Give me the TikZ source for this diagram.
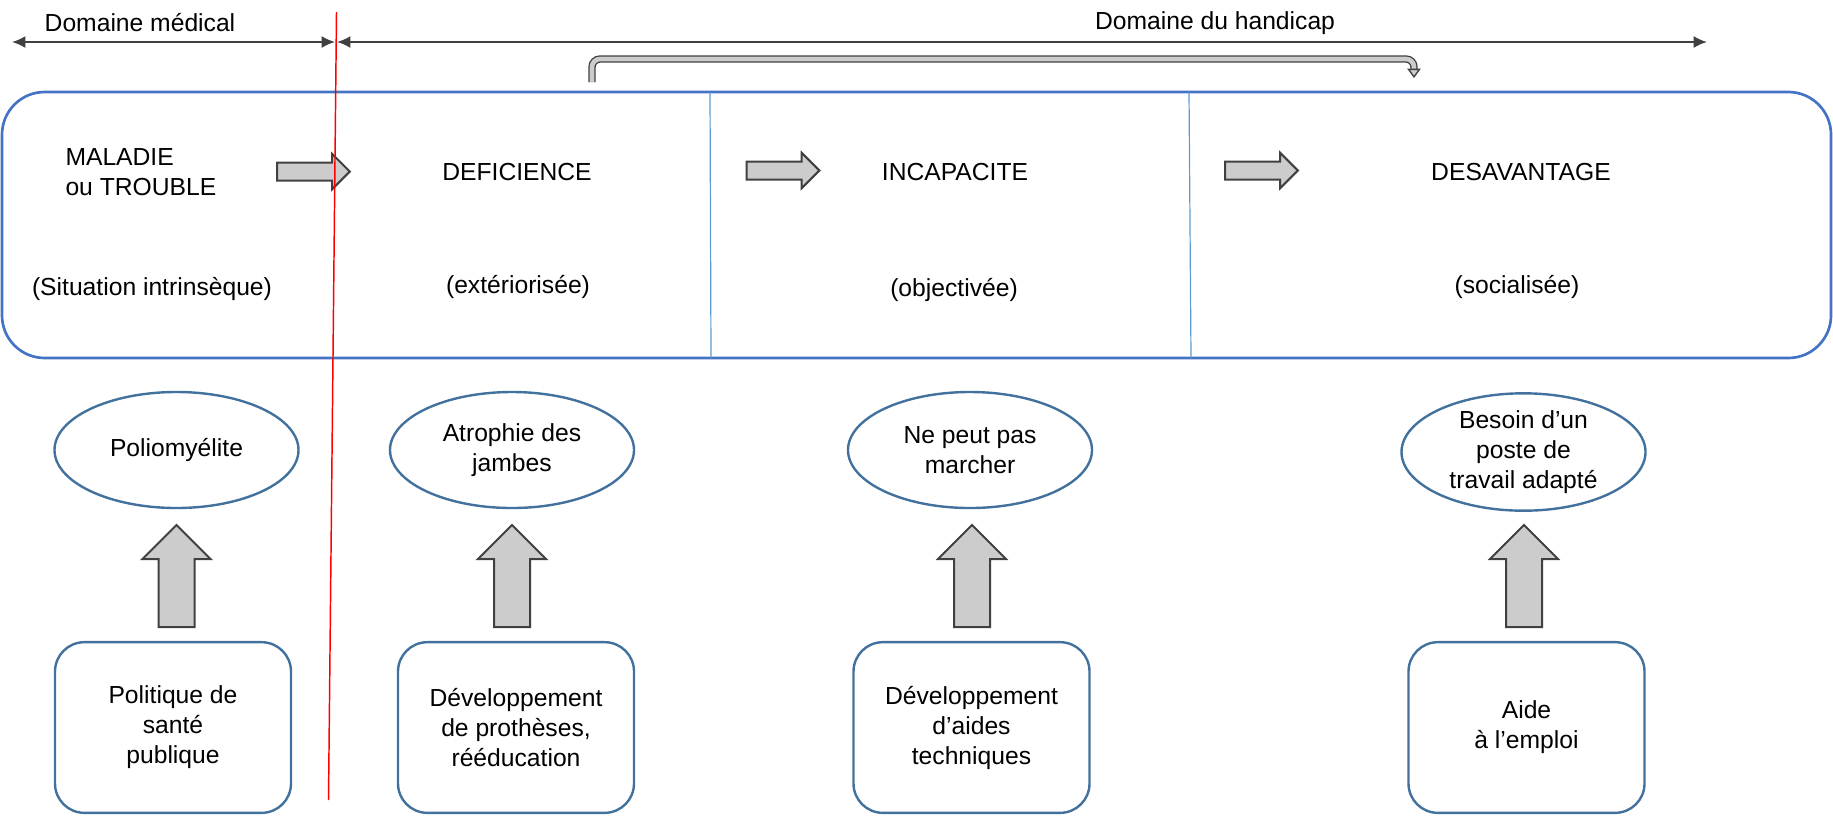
\documentclass[tikz,border=0pt]{standalone}
\usepackage{fontspec}
\setmainfont{Liberation Sans}
\usetikzlibrary{shapes.geometric,shapes.arrows,arrows.meta}

\definecolor{cadreblue}{RGB}{68,114,196}
\definecolor{traitblue}{RGB}{91,155,213}
\definecolor{bordblue}{RGB}{65,113,156}
\definecolor{flechegray}{RGB}{204,204,204}
\definecolor{contourgray}{RGB}{64,64,64}

\tikzset{every picture/.style={line width=0.75pt}}
\tikzset{
	texte/.style={font=\fontsize{18.5}{22.5}\selectfont, align=center, inner sep=0pt},
	bulle/.style={ellipse, draw=bordblue, line width=1.8pt, minimum width=183pt, minimum height=87pt, texte},
	cadre/.style={rectangle, rounded corners=22pt, draw=bordblue, line width=1.8pt, minimum width=177pt, minimum height=128pt, texte},
	flechedroite/.style={single arrow, draw=contourgray, fill=flechegray, line width=1.5pt, minimum height=54.5pt, minimum width=25pt, single arrow head extend=6.5pt, inner xsep=0pt, inner ysep=6pt},
	flechehaut/.style={single arrow, draw=contourgray, fill=flechegray, line width=1.5pt, minimum height=76.5pt, minimum width=49.5pt, single arrow head extend=12pt, inner xsep=0pt, inner ysep=12.75pt, rotate=90},
	domaine/.style={{Latex[length=10pt,width=9pt]}-{Latex[length=10pt,width=9pt]}, draw=contourgray, line width=1.5pt},
	renvoi/.style={draw=contourgray, double=flechegray, double distance=3.5pt, line width=1pt, rounded corners=6pt, -{Triangle[length=7pt,width=10pt,fill=flechegray]}}
}

\begin{document}
\begin{tikzpicture}[x=0.75pt,y=0.75pt,yscale=-1,xscale=1]
	\useasboundingbox (0,0) rectangle (1833,815);

	% Domaines
	\coordinate (medg) at (12,42);
	\coordinate (medd) at (335,42);
	\coordinate (handg) at (337,42);
	\coordinate (handd) at (1707,42);
	\draw[domaine] (medg) -- (medd);
	\draw[domaine] (handg) -- (handd);
	% Text Node
	\node[texte] (medical) at (140,23) {Domaine médical};
	% Text Node
	\node[texte] (handicap) at (1215,23) {Domaine du handicap};

	%Connector: renvoi
	\coordinate (renvoidepart) at (592,82);
	\coordinate (renvoifin) at (1414,78);
	\draw[renvoi] (renvoidepart) |- (1000,59) -| (renvoifin);

	%Shape: Rounded Rect
	\draw[cadreblue, line width=2pt, rounded corners=32pt] (2,92) rectangle (1831,358);
	%Straight Lines
	\coordinate (sep1h) at (710,92);
	\coordinate (sep1b) at (711,358);
	\coordinate (sep2h) at (1189,92);
	\coordinate (sep2b) at (1191,358);
	\draw[traitblue, line width=0.9pt] (sep1h) -- (sep1b);
	\draw[traitblue, line width=0.9pt] (sep2h) -- (sep2b);

	% Text Node
	\node[texte, align=left, anchor=west] (maladie) at (65,172) {MALADIE\\ou TROUBLE};
	\node[texte] (deficience) at (517,172) {DEFICIENCE};
	\node[texte] (incapacite) at (955,172) {INCAPACITE};
	\node[texte] (desavantage) at (1521,172) {DESAVANTAGE};
	% Text Node
	\node[texte] (intrinseque) at (152,289) {(Situation intrinsèque)};
	\node[texte] (exteriorisee) at (518,287) {(extériorisée)};
	\node[texte] (objectivee) at (954,290) {(objectivée)};
	\node[texte] (socialisee) at (1517,287) {(socialisée)};

	%Shape: Right Arrow
	\node[flechedroite] (suite1) at (309,171.5) {};
	\node[flechedroite] (suite2) at (778.5,170.5) {};
	\node[flechedroite] (suite3) at (1257,170.5) {};

	%Shape: Ellipse
	\node[bulle] (polio) at (176.5,450) {Poliomyélite};
	\node[bulle] (atrophie) at (512,450) {Atrophie des\\jambes};
	\node[bulle] (marcher) at (970,450) {Ne peut pas\\marcher};
	\node[bulle] (besoin) at (1523.5,452) {Besoin d’un\\poste de\\travail adapté};

	%Shape: Up Arrow
	\node[flechehaut] (action1) at (176.5,585) {};
	\node[flechehaut] (action2) at (512,585) {};
	\node[flechehaut] (action3) at (972,585) {};
	\node[flechehaut] (action4) at (1524,585) {};

	%Shape: Rounded Rect
	\node[cadre] (politique) at (173,727.5) {Politique de\\santé\\publique};
	\node[cadre] (protheses) at (516,727.5) {Développement\\de prothèses,\\rééducation};
	\node[cadre] (aides) at (971.5,727.5) {Développement\\d’aides\\techniques};
	\node[cadre] (emploi) at (1526.5,727.5) {Aide\\à l’emploi};

	%Straight Lines: limite
	\coordinate (rougehaut) at (336.5,12);
	\coordinate (rougebas) at (328.5,800);
	\draw[red, line width=1.1pt] (rougehaut) -- (rougebas);

\end{tikzpicture}
\end{document}
